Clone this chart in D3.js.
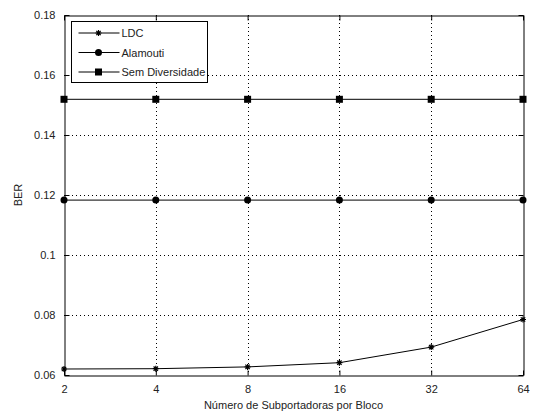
<!DOCTYPE html>
<html>
<head>
<meta charset="utf-8">
<script src="https://cdn.jsdelivr.net/npm/d3@7"></script>
<style>
  body { margin: 0; background: #fff; }
  text { font-family: "Liberation Sans", Arial, sans-serif; font-size: 11px; fill: #222; }
</style>
</head>
<body>
<svg id="chart" width="533" height="417"></svg>
<script>
// dados do grafico
const subportadoras = [2, 4, 8, 16, 32, 64];
const berLDC = [0.0620, 0.0621, 0.0627, 0.0641, 0.0693, 0.0785];
const berAlamouti = [0.1183, 0.1183, 0.1183, 0.1183, 0.1183, 0.1183];
const berSemDiv = [0.1519, 0.1519, 0.1519, 0.1519, 0.1519, 0.1519];
const yTicks = [0.06, 0.08, 0.1, 0.12, 0.14, 0.16, 0.18];
const seriesNames = ["LDC", "Alamouti", "Sem Diversidade"];

const svg = d3.select("#chart");
const margin = { top: 15, right: 10, bottom: 42, left: 64 };
const width = 533 - margin.left - margin.right;
const height = 375 - margin.top;

const x = d3.scaleLog().base(2).domain([2, 64]).range([0, width]);
const y = d3.scaleLinear().domain([0.06, 0.18]).range([height, 0]);

const g = svg.append("g").attr("transform", `translate(${margin.left},${margin.top})`);

// grade pontilhada
g.append("g").selectAll("line").data(subportadoras.slice(1, -1)).enter().append("line")
  .attr("x1", d => Math.round(x(d)) + 0.5).attr("x2", d => Math.round(x(d)) + 0.5)
  .attr("y1", 0).attr("y2", height)
  .attr("stroke", "#000").attr("stroke-width", 1).attr("stroke-dasharray", "1,3");
g.append("g").selectAll("line").data(yTicks.slice(1, -1)).enter().append("line")
  .attr("y1", d => Math.round(y(d)) + 0.5).attr("y2", d => Math.round(y(d)) + 0.5)
  .attr("x1", 0).attr("x2", width)
  .attr("stroke", "#000").attr("stroke-width", 1).attr("stroke-dasharray", "1,3");

// eixos
const fmtY = d => d3.format("")(+d.toFixed(2));
const axL = g.append("g").attr("transform", "translate(0.5,0)")
  .call(d3.axisLeft(y).tickValues(yTicks).tickSizeInner(-5).tickSizeOuter(0).tickPadding(9).tickFormat(fmtY));
const axR = g.append("g").attr("transform", `translate(${width + 0.5},0)`)
  .call(d3.axisRight(y).tickValues(yTicks).tickSizeInner(-5).tickSizeOuter(0).tickFormat(""));
const axB = g.append("g").attr("transform", `translate(0,${height + 0.5})`)
  .call(d3.axisBottom(x).tickValues(subportadoras).tickSizeInner(-5).tickSizeOuter(0).tickPadding(10).tickFormat(d3.format("d")));
const axT = g.append("g").attr("transform", "translate(0,0.5)")
  .call(d3.axisTop(x).tickValues(subportadoras).tickSizeInner(-5).tickSizeOuter(0).tickFormat(""));
[axL, axR, axB, axT].forEach(a => {
  a.select(".domain").attr("stroke", "#000");
  a.selectAll(".tick line").attr("stroke", "#000");
  a.selectAll("text").attr("font-size", 11).attr("font-family", "Liberation Sans, Arial, sans-serif").attr("fill", "#222");
});

// linhas
const line = d3.line().x((d, i) => x(subportadoras[i])).y(d => y(d));
const allSeries = [berLDC, berAlamouti, berSemDiv];
allSeries.forEach(s => {
  g.append("path").datum(s).attr("fill", "none").attr("stroke", "#000").attr("stroke-width", 1).attr("d", line);
});

// marcadores
function marker(sel, kind) {
  if (kind === 0) {
    const r = 3;
    sel.append("path").attr("d", `M${-r},0H${r}M0,${-r}V${r}M${-2.2},${-2.2}L2.2,2.2M${-2.2},2.2L2.2,${-2.2}`)
      .attr("stroke", "#000").attr("stroke-width", 1.2).attr("fill", "none");
  } else if (kind === 1) {
    sel.append("circle").attr("r", 3.5).attr("fill", "#000");
  } else {
    sel.append("rect").attr("x", -3.5).attr("y", -3.5).attr("width", 7).attr("height", 7).attr("fill", "#000");
  }
}
allSeries.forEach((s, k) => {
  g.append("g").selectAll("g").data(s).enter().append("g")
    .attr("transform", (d, i) => `translate(${x(subportadoras[i])},${y(d)})`)
    .each(function () { marker(d3.select(this), k); });
});

// legenda
const leg = svg.append("g").attr("transform", "translate(71.5,21.5)");
leg.append("rect").attr("width", 136).attr("height", 61).attr("fill", "#fff").attr("stroke", "#000");
seriesNames.forEach((n, k) => {
  const ly = 11.5 + k * 19.5;
  const row = leg.append("g").attr("transform", `translate(0,${ly})`);
  row.append("line").attr("x1", 7).attr("x2", 48).attr("stroke", "#000");
  const m = row.append("g").attr("transform", "translate(27,0)");
  marker(m, k);
  row.append("text").attr("x", 50).attr("y", 4).text(n);
});

// titulos dos eixos
svg.append("text").attr("x", margin.left + width / 2).attr("y", 409).attr("text-anchor", "middle")
  .text("Número de Subportadoras por Bloco");
svg.append("text").attr("transform", "translate(22,195) rotate(-90)").attr("text-anchor", "middle").text("BER");
</script>
</body>
</html>
